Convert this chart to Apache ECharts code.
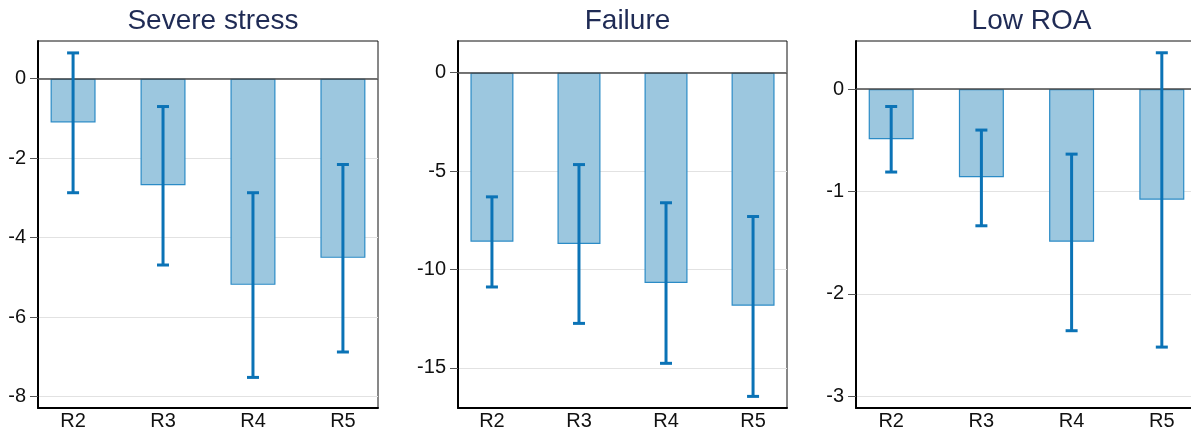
<!DOCTYPE html>
<html>
<head>
<meta charset="utf-8">
<script src="https://cdn.jsdelivr.net/npm/echarts@6/dist/echarts.min.js"></script>
<style>
html,body{margin:0;padding:0;background:#fff;}
#c{width:1191px;height:431px;}
</style>
</head>
<body>
<div id="c"></div>
<script>
const categories = ['R2', 'R3', 'R4', 'R5'];
const titles = ['Severe stress', 'Failure', 'Low ROA'];

const stressCoef = [-1.10, -2.68, -5.19, -4.51];
const stressLow  = [-2.87, -4.69, -7.52, -6.88];
const stressHigh = [0.65, -0.70, -2.87, -2.16];

const failureCoef = [-8.59, -8.70, -10.69, -11.84];
const failureLow  = [-10.89, -12.74, -14.77, -16.45];
const failureHigh = [-6.31, -4.67, -6.61, -7.31];

const roaCoef = [-0.49, -0.86, -1.49, -1.08];
const roaLow  = [-0.81, -1.335, -2.36, -2.52];
const roaHigh = [-0.17, -0.40, -0.635, 0.355];

const stressTicks = [0, -2, -4, -6, -8];
const failureTicks = [0, -5, -10, -15];
const roaTicks = [0, -1, -2, -3];

const panels = [
  {coef: stressCoef, low: stressLow, high: stressHigh, ticks: stressTicks, ymin: -8.29, ymax: 0.95,
   left: 38, width: 340, barW: 45},
  {coef: failureCoef, low: failureLow, high: failureHigh, ticks: failureTicks, ymin: -17.04, ymax: 1.61,
   left: 458, width: 329, barW: 43},
  {coef: roaCoef, low: roaLow, high: roaHigh, ticks: roaTicks, ymin: -3.115, ymax: 0.47,
   left: 856, width: 341, barW: 45}
];

const font = 'Liberation Sans, Arial, sans-serif';
const errColor = '#0b73b6';

function errRender(params, api) {
  const x = api.value(0), lo = api.value(1), hi = api.value(2);
  const pLo = api.coord([x, lo]);
  const pHi = api.coord([x, hi]);
  const hw = 6;
  const style = {stroke: errColor, lineWidth: 3, fill: null};
  return {
    type: 'group',
    children: [
      {type: 'line', shape: {x1: pLo[0], y1: pLo[1], x2: pHi[0], y2: pHi[1]}, style: style},
      {type: 'line', shape: {x1: pLo[0] - hw, y1: pLo[1], x2: pLo[0] + hw, y2: pLo[1]}, style: style},
      {type: 'line', shape: {x1: pHi[0] - hw, y1: pHi[1], x2: pHi[0] + hw, y2: pHi[1]}, style: style}
    ]
  };
}

const grid = [], xAxis = [], yAxis = [], series = [], title = [];
panels.forEach((p, i) => {
  grid.push({left: p.left, width: p.width, top: 41, bottom: 23, show: true,
    borderColor: '#111', borderWidth: 1, backgroundColor: '#fff', containLabel: false,
    outerBoundsMode: 'none'});
  const gl = p.left, gr = p.left + p.width;
  title.push({text: titles[i], left: (gl + gr) / 2, top: 2, textAlign: 'center',
    textStyle: {fontFamily: font, fontSize: 28, fontWeight: 'normal', color: '#1f2b55'}});
  xAxis.push({type: 'value', gridIndex: i, min: 0.61, max: 4.39,
    axisLine: {show: true, onZero: false, lineStyle: {color: '#000', width: 2}},
    axisTick: {show: false},
    splitLine: {show: false},
    axisLabel: {customValues: [1, 2, 3, 4], formatter: v => categories[Math.round(v) - 1],
      fontFamily: font, fontSize: 20, color: '#111', margin: 3}
  });
  yAxis.push({type: 'value', gridIndex: i, min: p.ymin, max: p.ymax,
    axisLine: {show: true, onZero: false, lineStyle: {color: '#000', width: 2}},
    axisTick: {show: true, length: 8, customValues: p.ticks, lineStyle: {color: '#555', width: 1}},
    splitLine: {show: true, lineStyle: {color: '#e2e2e2', width: 1}},
    axisLabel: {customValues: p.ticks, fontFamily: font, fontSize: 20, color: '#111', margin: 12}
  });
  series.push({type: 'bar', xAxisIndex: i, yAxisIndex: i, barWidth: p.barW,
    data: p.coef.map((v, k) => [k + 1, v]),
    itemStyle: {color: '#9cc7df', borderColor: '#2b8bc6', borderWidth: 1.2},
    markLine: {silent: true, symbol: 'none', label: {show: false},
      lineStyle: {color: '#4a4a4a', width: 1.5, type: 'solid'}, data: [{yAxis: 0}]},
    z: 2
  });
  series.push({type: 'custom', xAxisIndex: i, yAxisIndex: i, renderItem: errRender,
    encode: {x: 0, y: [1, 2]},
    data: p.coef.map((v, k) => [k + 1, p.low[k], p.high[k]]), z: 5
  });
});

const chart = echarts.init(document.getElementById('c'));
chart.setOption({animation: false, backgroundColor: '#fff', title, grid, xAxis, yAxis, series});
</script>
</body>
</html>
